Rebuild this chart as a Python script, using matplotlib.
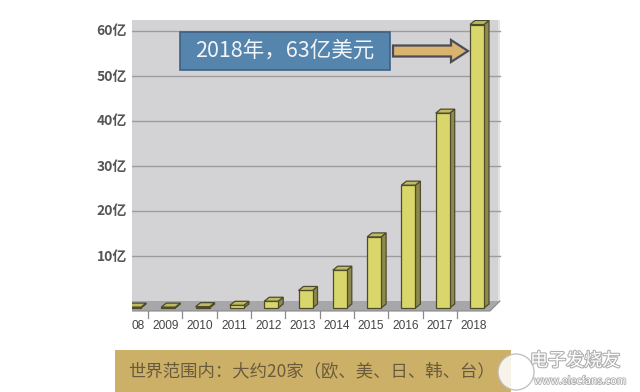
import matplotlib
matplotlib.use("Agg")
import matplotlib.pyplot as plt
from matplotlib.patches import Polygon, Rectangle, Ellipse
import matplotlib.patheffects as pe

plt.rcParams['font.family'] = ['Noto Sans CJK SC', 'DejaVu Sans']

# ---- data ----
years = ["2008", "2009", "2010", "2011", "2012", "2013", "2014", "2015", "2016", "2017", "2018"]
values = [0.2, 0.2, 0.3, 0.6, 1.5, 3.9, 8.4, 15.8, 27.3, 43.3, 63.0]
ytick_vals = [10, 20, 30, 40, 50, 60]
ytick_labels = ["10亿", "20亿", "30亿", "40亿", "50亿", "60亿"]
xtick_labels = ["08"] + years[1:]
annotation = "2018年，63亿美元"
footer = "世界范围内：大约20家（欧、美、日、韩、台）"

W, H = 640, 392
fig = plt.figure(figsize=(W / 100, H / 100), dpi=100)
fig.patch.set_facecolor("white")

def fx(x):
    return x / W

def fy(y):
    return 1 - y / H

# axes in pixel layout
ax_l, ax_r, ax_t, ax_b = 132, 510, 20, 312
ax = fig.add_axes([fx(ax_l), fy(ax_b), (ax_r - ax_l) / W, (ax_b - ax_t) / H])
ax.set_facecolor("none")
for s in ax.spines.values():
    s.set_visible(False)

x0px, dxpx = 131.0, 34.3      # category centre px and spacing
y0px, dypx = 301.0, 4.5       # zero of back wall, px per unit
xl = ((ax_l - x0px) / dxpx, (ax_r - x0px) / dxpx)
yl = ((y0px - ax_b) / dypx, (y0px - ax_t) / dypx)
ax.set_xlim(*xl)
ax.set_ylim(*yl)

def ux(px):   # px distance -> x data units
    return px / dxpx

def uy(px):   # px distance -> y data units
    return px / dypx

wall_right = ux(500 - x0px)
floor_front_right = ux(490 - x0px)
floor_depth = uy(10)

# back wall
ax.add_patch(Rectangle((xl[0], 0), wall_right - xl[0], yl[1], facecolor="#d3d3d5",
                       edgecolor="none", zorder=0))
ax.add_patch(Rectangle((wall_right - ux(1.5), 0), ux(1.5), yl[1], facecolor="#e4e4e6",
                       edgecolor="none", zorder=0.5))
# floor
ax.add_patch(Polygon([(xl[0], 0), (wall_right, 0), (floor_front_right, -floor_depth),
                      (xl[0], -floor_depth)], closed=True, facecolor="#a7a7a9",
                     edgecolor="none", zorder=0.6))
ax.plot([xl[0], floor_front_right, wall_right], [-floor_depth, -floor_depth, 0],
        color="#8a8a8c", lw=0.8, zorder=0.7)

# gridlines
for v in ytick_vals:
    ax.plot([xl[0], wall_right], [v, v], color="#9c9c9e", lw=1.0, zorder=1)

# separators below floor
for i in range(len(years)):
    xs = i + 0.5
    if xs < floor_front_right:
        ax.plot([xs, xs], [-floor_depth, -floor_depth - uy(7)], color="#8a8a8a", lw=0.9,
                zorder=1, clip_on=False)

# 3D bars
front_off = ux(3)
bw = ux(14)
sdx, sdy = ux(5), uy(4)
base = -uy(7)
for i, v in enumerate(values):
    xa = i + front_off - bw / 2
    xb = xa + bw
    yt = base + v
    front = Polygon([(xa, base), (xb, base), (xb, yt), (xa, yt)], closed=True,
                    facecolor="#d9d66c", edgecolor="#4d4b2c", lw=0.9, zorder=3)
    side = Polygon([(xb, base), (xb + sdx, base + sdy), (xb + sdx, yt + sdy), (xb, yt)],
                   closed=True, facecolor="#8d8a4c", edgecolor="#4d4b2c", lw=0.9, zorder=3)
    top = Polygon([(xa, yt), (xb, yt), (xb + sdx, yt + sdy), (xa + sdx, yt + sdy)],
                  closed=True, facecolor="#bfbb62", edgecolor="#4d4b2c", lw=0.9, zorder=3)
    for p in (side, front, top):
        ax.add_patch(p)

ax.set_xticks([])
ax.set_yticks([])

# y labels
for v, lab in zip(ytick_vals, ytick_labels):
    ypx = y0px - v * dypx
    fig.text(fx(127), fy(ypx + 0.5), lab, ha="right", va="center", fontsize=10,
             fontweight="bold", color="#555555")

# x labels
for i, lab in enumerate(xtick_labels):
    cx = x0px + i * dxpx
    if i == 0:
        fig.text(fx(131), fy(326), lab, ha="left", va="center", fontsize=8.6,
                 color="#444444", family="Liberation Sans")
    else:
        fig.text(fx(cx), fy(326), lab, ha="center", va="center", fontsize=8.6,
                 color="#444444", family="Liberation Sans")

# annotation box
fig.patches.append(Rectangle((fx(180), fy(70)), fx(390) - fx(180), fy(32) - fy(70),
                             transform=fig.transFigure, facecolor="#5584ad",
                             edgecolor="#3d6183", lw=1.2, zorder=5))
fig.text(fx(285), fy(51), annotation, ha="center", va="center", fontsize=15.5,
         color="#f2f4f8", zorder=6)

# arrow
arrow_pts = [(393, 45.5), (451, 45.5), (451, 40), (468, 51), (451, 62), (451, 56.5), (393, 56.5)]
fig.patches.append(Polygon([(fx(x), fy(y)) for x, y in arrow_pts], closed=True,
                           transform=fig.transFigure, facecolor="#d8b470",
                           edgecolor="#4c4c58", lw=1.6, zorder=5))

# footer banner
fig.patches.append(Rectangle((fx(115), 0), fx(511) - fx(115), fy(350),
                             transform=fig.transFigure, facecolor="#ccb068",
                             edgecolor="none", zorder=1))
fig.text(fx(128), fy(371), footer, ha="left", va="center", fontsize=12.5,
         color="#6a5a3c", zorder=2)

# watermark
stroke = [pe.withStroke(linewidth=1.6, foreground="#b0b0b0")]
circ = Ellipse((fx(516), fy(372)), 36 / W, 36 / H, transform=fig.transFigure,
               facecolor="white", edgecolor="#b8b8b8", lw=1.0, alpha=0.85, zorder=3)
fig.patches.append(circ)
fig.text(fx(575), fy(361), "电子发烧友", ha="center", va="center", fontsize=13,
         color="white", path_effects=stroke, zorder=4, style="italic")
fig.text(fx(580), fy(381), "www.elecfans.com", ha="center", va="center", fontsize=7.5,
         color="white", path_effects=[pe.withStroke(linewidth=1.2, foreground="#b0b0b0")],
         zorder=4)

fig.savefig("out.png", dpi=100, facecolor="white")
